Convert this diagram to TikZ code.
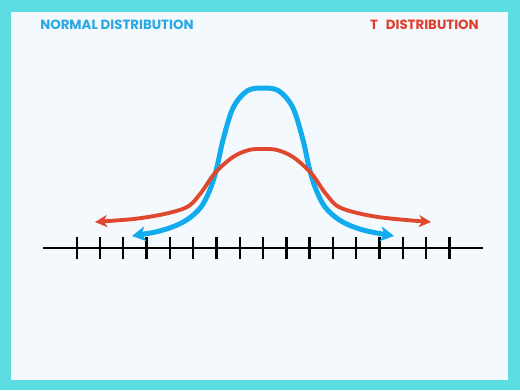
\documentclass[tikz,border=0pt]{standalone}
\usepackage{fontspec}
\newfontfamily\titlefont{Poppins}
\usetikzlibrary{arrows.meta}
\definecolor{frame}{HTML}{5CDDE2}
\definecolor{paper}{HTML}{F3F9FC}
\definecolor{nblue}{HTML}{12ACEE}
\definecolor{tred}{HTML}{E0472F}
\definecolor{tblue}{HTML}{2AA8E6}
\definecolor{tredtxt}{HTML}{E03D2B}
\tikzset{
  title/.style={font=\titlefont\bfseries\fontsize{10}{12}\selectfont, inner sep=0pt},
  normcurve/.style={draw=nblue, line width=3.75pt, line cap=round, line join=round,
    {Stealth[length=10pt,width=11pt,inset=2.5pt]}-{Stealth[length=10pt,width=11pt,inset=2.5pt]}},
  tcurve/.style={draw=tred, line width=2.9pt, line cap=round, line join=round,
    {Stealth[length=9pt,width=9pt,inset=2.5pt]}-{Stealth[length=9pt,width=9pt,inset=2.5pt]}},
  axisline/.style={draw=black, line width=1.9pt},
  tick/.style={draw=black, line width=1.8pt}
}
\begin{document}
\begin{tikzpicture}[x=0.75pt, y=-0.75pt]
\useasboundingbox (0,0) rectangle (520,390);
\fill[frame] (0,0) rectangle (520,390);
\fill[paper] (11,12) rectangle (508,380);
\node[title, text=tblue, anchor=base west] (normtitle) at (40,29.5) {NORMAL DISTRIBUTION};
\node[title, text=tredtxt, anchor=base east] (ttitle) at (479,29.5) {T~~\,DISTRIBUTION};
% axis
\draw[axisline] (43,248) -- (483,248);
\foreach \i in {0,...,16} {
  \draw[tick] ({76.7+23.29*\i},237) -- ({76.7+23.29*\i},259);
}
% normal curve
\draw[normcurve] plot[smooth, tension=0.55] coordinates {
  (132,236) (163,230) (185,221) (201,207) (211,187) (217,167) (223,140)
  (233,108) (247,91) (263,88) (279,91) (293,108) (303,140) (309,167)
  (315,187) (325,207) (341,221) (363,230) (394,236)};
% t curve
\draw[tcurve] plot[smooth, tension=0.55] coordinates {
  (95,222) (148,217) (185,208) (200,194) (215,173) (233,157) (249,150) (263,149)
  (277,150) (293,157) (311,173) (326,194) (341,208) (378,217) (431,222)};
\end{tikzpicture}
\end{document}
